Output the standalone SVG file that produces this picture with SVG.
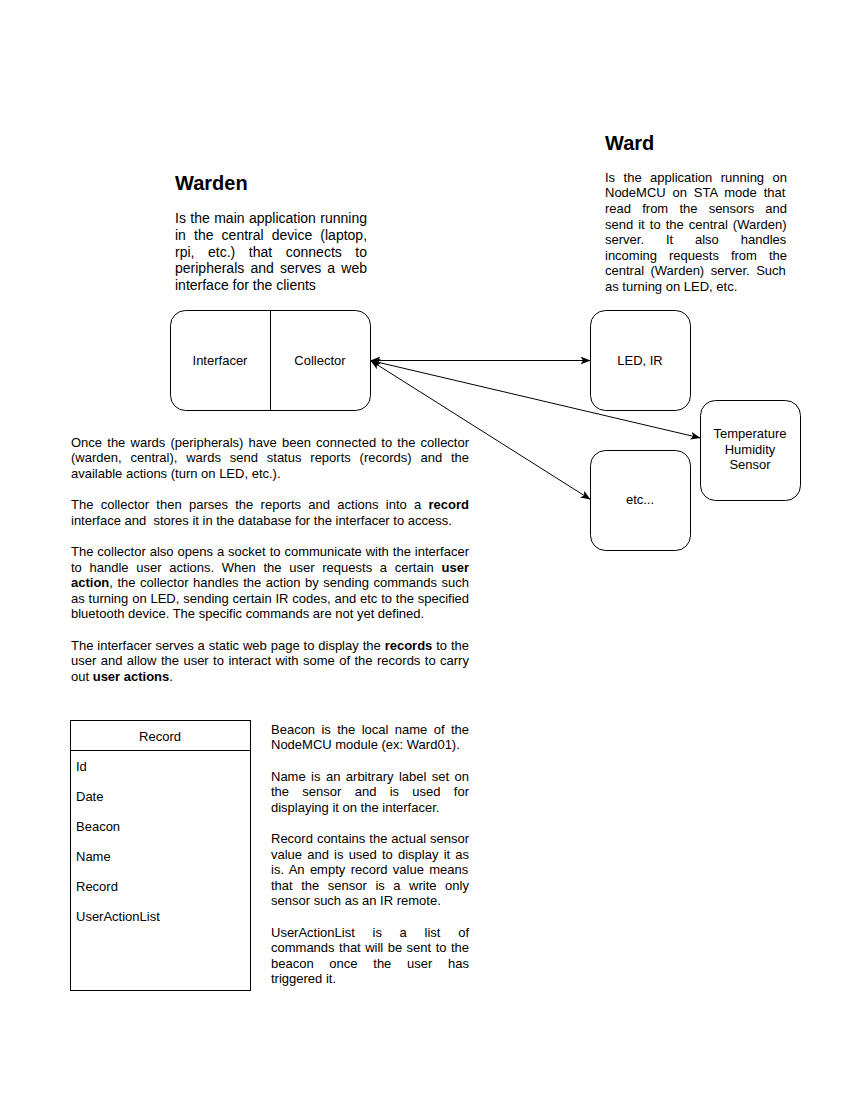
<svg xmlns="http://www.w3.org/2000/svg" width="850" height="1100" viewBox="0 0 850 1100">
<style>
text{font-family:"Liberation Sans",Arial,sans-serif;fill:#000}
.t13{font-size:13px}
.t14{font-size:14px}
.ttl{font-size:20px;font-weight:bold}
.lbl{font-size:13px;text-anchor:middle}
.b{font-weight:bold}
.box{fill:#fff;stroke:#000;stroke-width:1}
.edge{fill:none;stroke:#000;stroke-width:1}
</style>
<defs>
<marker id="arr" markerUnits="userSpaceOnUse" markerWidth="10" markerHeight="8" refX="10" refY="4" orient="auto-start-reverse" viewBox="0 0 10 8">
<path d="M0,0 L10,4 L0,8 L2.5,4 Z" fill="#000"/>
</marker>
</defs>
<rect width="850" height="1100" fill="#fff"/>

<g id="warden-text">
<text class="ttl" x="175" y="190">Warden</text>
<text class="t14" x="175" y="223" style="word-spacing:0.53px">Is the main application running</text>
<text class="t14" x="175" y="239.8" style="word-spacing:4.23px">in the central device (laptop,</text>
<text class="t14" x="175" y="256.6" style="word-spacing:9.68px">rpi, etc.) that connects to</text>
<text class="t14" x="175" y="273.4" style="word-spacing:2.28px">peripherals and serves a web</text>
<text class="t14" x="175" y="290.2">interface for the clients</text>
</g>

<g id="ward-text">
<text class="ttl" x="605" y="150">Ward</text>
<text class="t13" x="605" y="181.7" style="word-spacing:4.85px">Is the application running on</text>
<text class="t13" x="605" y="197.3" style="word-spacing:3.23px">NodeMCU on STA mode that</text>
<text class="t13" x="605" y="212.9" style="word-spacing:7.57px">read from the sensors and</text>
<text class="t13" x="605" y="228.5" style="word-spacing:1.43px">send it to the central (Warden)</text>
<text class="t13" x="605" y="244.1" style="word-spacing:18.27px">server. It also handles</text>
<text class="t13" x="605" y="259.7" style="word-spacing:8.4px">incoming requests from the</text>
<text class="t13" x="605" y="275.3" style="word-spacing:2.87px">central (Warden) server. Such</text>
<text class="t13" x="605" y="290.9">as turning on LED, etc.</text>
</g>

<g id="warden">
<rect class="box" x="170.5" y="310.5" width="200" height="100" rx="15" ry="15"/>
<line class="edge" x1="270.5" y1="310.5" x2="270.5" y2="410.5"/>
</g>
<g id="interfacer">
<text class="lbl" x="220" y="364.6">Interfacer</text>
</g>
<g id="collector">
<text class="lbl" x="320" y="364.6">Collector</text>
</g>

<g id="led-ir">
<rect class="box" x="590.5" y="310.5" width="100" height="100" rx="15" ry="15"/>
<text class="lbl" x="640" y="364.6">LED, IR</text>
</g>

<g id="temp-sensor">
<rect class="box" x="700.5" y="400.5" width="100" height="100" rx="15" ry="15"/>
<text class="lbl" x="750" y="438">Temperature</text>
<text class="lbl" x="750" y="453.6">Humidity</text>
<text class="lbl" x="750" y="469.2">Sensor</text>
</g>

<g id="etc">
<rect class="box" x="590.5" y="450.5" width="100" height="100" rx="15" ry="15"/>
<text class="lbl" x="640" y="504">etc...</text>
</g>

<g id="connectors">
<line class="edge" x1="370.5" y1="360.5" x2="590.5" y2="360.5" marker-start="url(#arr)" marker-end="url(#arr)"/>
<line class="edge" x1="370.5" y1="360.5" x2="700.5" y2="438" marker-start="url(#arr)" marker-end="url(#arr)"/>
<line class="edge" x1="370.5" y1="360.5" x2="590.5" y2="499.5" marker-start="url(#arr)" marker-end="url(#arr)"/>
</g>

<g id="description">
<text class="t13" x="71" y="446.7" style="word-spacing:1.59px">Once the wards (peripherals) have been connected to the collector</text>
<text class="t13" x="71" y="462.3" style="word-spacing:5.23px">(warden, central), wards send status reports (records) and the</text>
<text class="t13" x="71" y="477.9">available actions (turn on LED, etc.).</text>
<text class="t13" x="71" y="509.1" style="word-spacing:3.67px">The collector then parses the reports and actions into a <tspan class="b">record</tspan></text>
<text class="t13" x="71" y="524.7">interface and&#160; stores it in the database for the interfacer to access.</text>
<text class="t13" x="71" y="555.9" style="word-spacing:0.35px">The collector also opens a socket to communicate with the interfacer</text>
<text class="t13" x="71" y="571.5" style="word-spacing:4.1px">to handle user actions. When the user requests a certain <tspan class="b">user</tspan></text>
<text class="t13" x="71" y="587.1" style="word-spacing:0.95px"><tspan class="b">action</tspan>, the collector handles the action by sending commands such</text>
<text class="t13" x="71" y="602.7" style="word-spacing:0.23px">as turning on LED, sending certain IR codes, and etc to the specified</text>
<text class="t13" x="71" y="618.3">bluetooth device. The specific commands are not yet defined.</text>
<text class="t13" x="71" y="649.5" style="word-spacing:0.29px">The interfacer serves a static web page to display the <tspan class="b">records</tspan> to the</text>
<text class="t13" x="71" y="665.1" style="word-spacing:0.82px">user and allow the user to interact with some of the records to carry</text>
<text class="t13" x="71" y="680.7">out <tspan class="b">user actions</tspan>.</text>
</g>

<g id="record">
<rect class="box" x="70.5" y="720.5" width="180" height="270"/>
<line class="edge" x1="70.5" y1="750.5" x2="250.5" y2="750.5"/>
<text class="lbl" x="160" y="740.6">Record</text>
<text class="t13" x="76" y="770.6">Id</text>
<text class="t13" x="76" y="800.6">Date</text>
<text class="t13" x="76" y="830.6">Beacon</text>
<text class="t13" x="76" y="860.6">Name</text>
<text class="t13" x="76" y="890.6">Record</text>
<text class="t13" x="76" y="920.6">UserActionList</text>
</g>

<g id="record-notes">
<text class="t13" x="271" y="733.7" style="word-spacing:2.77px">Beacon is the local name of the</text>
<text class="t13" x="271" y="749.3">NodeMCU module (ex: Ward01).</text>
<text class="t13" x="271" y="780.5" style="word-spacing:1.82px">Name is an arbitrary label set on</text>
<text class="t13" x="271" y="796.1" style="word-spacing:9.68px">the sensor and is used for</text>
<text class="t13" x="271" y="811.7">displaying it on the interfacer.</text>
<text class="t13" x="271" y="842.9" style="word-spacing:0.37px">Record contains the actual sensor</text>
<text class="t13" x="271" y="858.5" style="word-spacing:1.55px">value and is used to display it as</text>
<text class="t13" x="271" y="874.1" style="word-spacing:1.74px">is. An empty record value means</text>
<text class="t13" x="271" y="889.7" style="word-spacing:4.93px">that the sensor is a write only</text>
<text class="t13" x="271" y="905.3">sensor such as an IR remote.</text>
<text class="t13" x="271" y="936.5" style="word-spacing:14.1px">UserActionList is a list of</text>
<text class="t13" x="271" y="952.1" style="word-spacing:0.85px">commands that will be sent to the</text>
<text class="t13" x="271" y="967.7" style="word-spacing:12.1px">beacon once the user has</text>
<text class="t13" x="271" y="983.3">triggered it.</text>
</g>
</svg>
